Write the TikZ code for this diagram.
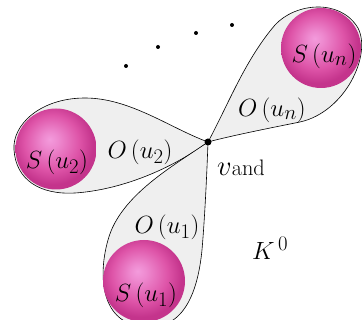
\documentclass[tikz,border=0pt]{standalone}
\usepackage{amsmath}
\usepackage{graphicx}
\definecolor{loopfill}{RGB}{239,239,239}
\definecolor{sphHi}{RGB}{243,155,220}
\definecolor{sphMid}{RGB}{222,84,168}
\definecolor{sphEdge}{RGB}{196,52,140}
\pgfdeclareradialshading{sphere}{\pgfpoint{-4bp}{6bp}}{color(0bp)=(sphHi); color(5bp)=(sphHi!75!sphMid); color(17bp)=(sphMid); color(25bp)=(sphEdge); color(50bp)=(sphEdge)}
\tikzset{
  loopshape/.style={draw=black, line width=0.6pt, fill=loopfill},
  ball/.style={shading=sphere},
  lbl/.style={font=\fontsize{24.88}{30}\selectfont, inner sep=0pt},
  smalldot/.style={fill=black, circle, inner sep=0pt, minimum size=4pt},
}
\begin{document}
\begin{tikzpicture}[x=1pt,y=-1pt]
\useasboundingbox (0,0) rectangle (362,320);
\clip (0,0) rectangle (362,320);
\coordinate (V) at (208,142);
% loops
\path[loopshape] (V) .. controls (228,105) and (245,60) .. (275,25)
   .. controls (295,3) and (340,-2) .. (358,28)
   .. controls (372,55) and (345,112) .. (300,122)
   .. controls (270,128) and (230,136) .. (V) -- cycle;
\path[loopshape] (V) .. controls (170,128) and (130,98) .. (85,98)
   .. controls (40,98) and (12,125) .. (14,150)
   .. controls (16,180) and (40,195) .. (75,193)
   .. controls (120,190) and (170,170) .. (V) -- cycle;
\path[loopshape] (V) .. controls (175,165) and (120,195) .. (108,240)
   .. controls (98,275) and (100,324) .. (145,327)
   .. controls (185,330) and (198,290) .. (202,250)
   .. controls (205,215) and (207,170) .. (V) -- cycle;
% spheres
\shade[ball] (321,48) circle[radius=40];
\shade[ball] (56,149) circle[radius=40.5];
\shade[ball] (144,281) circle[radius=41];
% vertex
\node[fill=black, circle, inner sep=0pt, minimum size=7pt] (v) at (V) {};
% labels
\node[lbl] (su1) at (146,295) {$S\,(u_1)$};
\node[lbl] (su2) at (57,162) {$S\,(u_2)$};
\node[lbl] (sun) at (324,56) {$S\,(u_n)$};
\node[lbl] (ou1) at (167,227) {$O\,(u_1)$};
\node[lbl] (ou2) at (140,152) {$O\,(u_2)$};
\node[lbl] (oun) at (272,110) {$O\,(u_n)$};
\node[lbl, anchor=base west] (vand) at (217,176) {\scalebox{1.15}{$v$}\scalebox{0.9}{and}};
\node[lbl, anchor=base west] (k0) at (252,260) {$K^{\,\fontsize{16}{18}\selectfont 0}$};
% dots
\node[smalldot] (d1) at (126,66) {};
\node[smalldot] (d2) at (158,47) {};
\node[smalldot] (d3) at (196,33) {};
\node[smalldot] (d4) at (232,25) {};
\end{tikzpicture}
\end{document}
